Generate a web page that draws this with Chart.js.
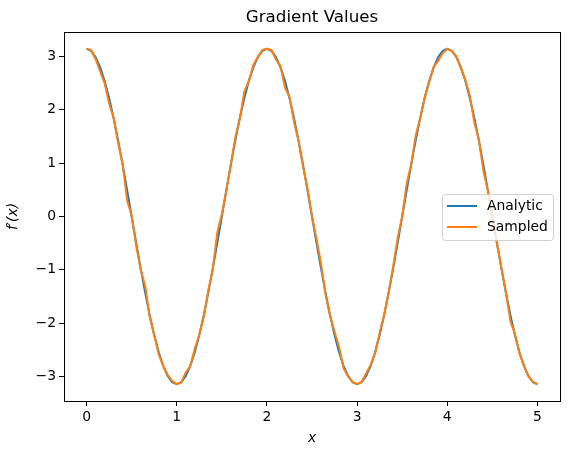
<!DOCTYPE html>
<html>
<head>
<meta charset="utf-8">
<script src="https://cdn.jsdelivr.net/npm/chart.js@4"></script>
<style>
  html, body { margin: 0; padding: 0; background: #fff; }
  canvas { display: block; }
</style>
</head>
<body>
<canvas id="chart" width="570" height="455"></canvas>
<script>
// x positions of the samples (step 0.05 from 0 to 5)
const xValues = [
    0.00, 0.05, 0.10, 0.15, 0.20, 0.25, 0.30, 0.35, 0.40, 0.45,
    0.50, 0.55, 0.60, 0.65, 0.70, 0.75, 0.80, 0.85, 0.90, 0.95,
    1.00, 1.05, 1.10, 1.15, 1.20, 1.25, 1.30, 1.35, 1.40, 1.45,
    1.50, 1.55, 1.60, 1.65, 1.70, 1.75, 1.80, 1.85, 1.90, 1.95,
    2.00, 2.05, 2.10, 2.15, 2.20, 2.25, 2.30, 2.35, 2.40, 2.45,
    2.50, 2.55, 2.60, 2.65, 2.70, 2.75, 2.80, 2.85, 2.90, 2.95,
    3.00, 3.05, 3.10, 3.15, 3.20, 3.25, 3.30, 3.35, 3.40, 3.45,
    3.50, 3.55, 3.60, 3.65, 3.70, 3.75, 3.80, 3.85, 3.90, 3.95,
    4.00, 4.05, 4.10, 4.15, 4.20, 4.25, 4.30, 4.35, 4.40, 4.45,
    4.50, 4.55, 4.60, 4.65, 4.70, 4.75, 4.80, 4.85, 4.90, 4.95,
    5.00
];

const analytic = [
    3.142, 3.103, 2.988, 2.799, 2.542, 2.221, 1.847, 1.426, 0.971, 0.491,
    0.000, -0.491, -0.971, -1.426, -1.847, -2.221, -2.542, -2.799, -2.988, -3.103,
    -3.142, -3.103, -2.988, -2.799, -2.542, -2.221, -1.847, -1.426, -0.971, -0.491,
    0.000, 0.491, 0.971, 1.426, 1.847, 2.221, 2.542, 2.799, 2.988, 3.103,
    3.142, 3.103, 2.988, 2.799, 2.542, 2.221, 1.847, 1.426, 0.971, 0.491,
    0.000, -0.491, -0.971, -1.426, -1.847, -2.221, -2.542, -2.799, -2.988, -3.103,
    -3.142, -3.103, -2.988, -2.799, -2.542, -2.221, -1.847, -1.426, -0.971, -0.491,
    0.000, 0.491, 0.971, 1.426, 1.847, 2.221, 2.542, 2.799, 2.988, 3.103,
    3.142, 3.103, 2.988, 2.799, 2.542, 2.221, 1.847, 1.426, 0.971, 0.491,
    0.000, -0.491, -0.971, -1.426, -1.847, -2.221, -2.542, -2.799, -2.988, -3.103,
    -3.142
];

const sampled = [
    3.14, 3.12, 2.95, 2.72, 2.50, 2.12, 1.84, 1.38, 0.98, 0.30,
    0.02, -0.54, -0.99, -1.30, -1.88, -2.22, -2.58, -2.80, -2.97, -3.08,
    -3.14, -3.11, -2.92, -2.80, -2.48, -2.21, -1.88, -1.38, -0.98, -0.30,
    0.04, 0.48, 0.98, 1.48, 1.84, 2.34, 2.54, 2.84, 2.99, 3.12,
    3.14, 3.12, 2.94, 2.82, 2.42, 2.24, 1.78, 1.42, 0.94, 0.52,
    0.00, -0.42, -0.88, -1.46, -1.86, -2.16, -2.44, -2.84, -3.00, -3.10,
    -3.14, -3.10, -2.94, -2.78, -2.56, -2.18, -1.84, -1.42, -0.94, -0.40,
    0.00, 0.62, 0.98, 1.52, 1.84, 2.24, 2.52, 2.80, 2.92, 3.06,
    3.14, 3.10, 3.00, 2.78, 2.56, 2.26, 1.76, 1.44, 0.86, 0.48,
    0.02, -0.49, -0.96, -1.42, -1.96, -2.20, -2.56, -2.80, -2.99, -3.10,
    -3.14
];

const xTicks = [0, 1, 2, 3, 4, 5];
const yTicks = [-3, -2, -1, 0, 1, 2, 3];

const seriesLabels = ["Analytic", "Sampled"];
const seriesColors = ["#1f77b4", "#ff7f0e"];

const FONT = "'DejaVu Sans', sans-serif";

const toPoints = (ys) => xValues.map((x, i) => ({ x: x, y: ys[i] }));

// Full box around the plot area plus the title (matplotlib style).
const framePlugin = {
    id: "frame",
    afterDraw(chart) {
        const { ctx, chartArea: a } = chart;
        ctx.save();
        ctx.strokeStyle = "#000";
        ctx.lineWidth = 1;
        ctx.strokeRect(Math.round(a.left) + 0.5, Math.round(a.top) + 0.5,
            Math.round(a.right - a.left), Math.round(a.bottom - a.top));
        ctx.fillStyle = "#000";
        ctx.font = "16.7px " + FONT;
        ctx.textAlign = "center";
        ctx.textBaseline = "middle";
        ctx.fillText("Gradient Values", (a.left + a.right) / 2, 18);
        ctx.restore();
    },
};

// Legend box inside the plot, at the right, vertically centred.
const legendPlugin = {
    id: "innerLegend",
    afterDraw(chart) {
        const { ctx, chartArea: a } = chart;
        const w = 111, h = 46;
        const x = a.right - 7 - w;
        const y = Math.round((a.top + a.bottom) / 2 - h / 2);
        ctx.save();
        ctx.beginPath();
        ctx.roundRect(x + 0.5, y + 0.5, w, h, 3);
        ctx.fillStyle = "rgba(255,255,255,0.8)";
        ctx.fill();
        ctx.strokeStyle = "rgba(204,204,204,0.9)";
        ctx.lineWidth = 1;
        ctx.stroke();
        ctx.font = "13.9px " + FONT;
        ctx.textBaseline = "middle";
        ctx.textAlign = "left";
        seriesLabels.forEach((label, i) => {
            const ly = y + 12 + i * 21;
            ctx.strokeStyle = seriesColors[i];
            ctx.lineWidth = 2;
            ctx.beginPath();
            ctx.moveTo(x + 5, ly);
            ctx.lineTo(x + 35, ly);
            ctx.stroke();
            ctx.fillStyle = "#000";
            ctx.fillText(label, x + 45, ly);
        });
        ctx.restore();
    },
};

const minusSign = (v) => String(v).replace("-", "\u2212");

new Chart(document.getElementById("chart"), {
    type: "line",
    data: {
        datasets: [
            {
                label: seriesLabels[0],
                data: toPoints(analytic),
                borderColor: seriesColors[0],
                borderWidth: 2,
                pointRadius: 0,
                tension: 0,
                order: 2,
            },
            {
                label: seriesLabels[1],
                data: toPoints(sampled),
                borderColor: seriesColors[1],
                borderWidth: 2,
                pointRadius: 0,
                tension: 0,
                order: 1,
            },
        ],
    },
    options: {
        responsive: false,
        animation: false,
        layout: { padding: { top: 32, right: 10, left: 0, bottom: 0 } },
        plugins: {
            legend: { display: false },
            title: { display: false },
            tooltip: { enabled: false },
        },
        scales: {
            x: {
                type: "linear",
                min: -0.25,
                max: 5.25,
                afterBuildTicks: (s) => { s.ticks = xTicks.map((v) => ({ value: v })); },
                afterFit: (s) => { s.height = 54; },
                ticks: {
                    color: "#000",
                    font: { family: FONT, size: 13.9 },
                    padding: 3,
                    maxRotation: 0,
                    callback: (v) => minusSign(v),
                },
                grid: { drawOnChartArea: false, tickLength: 5, color: "#000", tickColor: "#000" },
                border: { display: false },
                title: {
                    display: true,
                    text: "x",
                    color: "#000",
                    font: { family: FONT, size: 13.9, style: "italic" },
                    padding: { top: 0, bottom: 8 },
                },
            },
            y: {
                type: "linear",
                min: -3.456,
                max: 3.456,
                afterBuildTicks: (s) => { s.ticks = yTicks.map((v) => ({ value: v })); },
                afterFit: (s) => { s.width = 64; },
                ticks: {
                    color: "#000",
                    font: { family: FONT, size: 13.9 },
                    padding: 3,
                    callback: (v) => minusSign(v),
                },
                grid: { drawOnChartArea: false, tickLength: 5, color: "#000", tickColor: "#000" },
                border: { display: false },
                title: {
                    display: true,
                    text: "f\u2032(x)",
                    color: "#000",
                    font: { family: FONT, size: 13.9, style: "italic" },
                    padding: { top: 5, bottom: 0 },
                },
            },
        },
    },
    plugins: [framePlugin, legendPlugin],
});
</script>
</body>
</html>
